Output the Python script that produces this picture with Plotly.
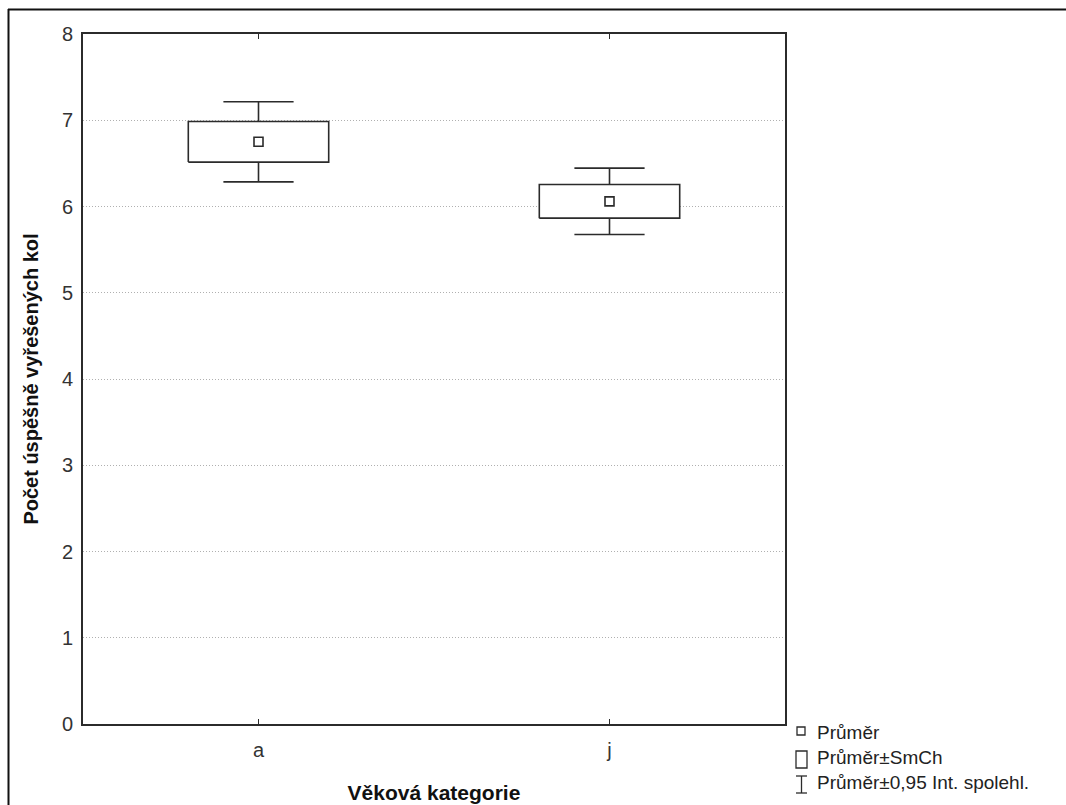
import plotly.graph_objects as go

categories = ["a", "j"]
means = [6.75, 6.06]
se = [0.235, 0.195]
ci95 = [0.465, 0.385]
y_ticks = [0, 1, 2, 3, 4, 5, 6, 7, 8]

x_title = "Věková kategorie"
y_title = "Počet úspěšně vyřešených kol"
legend_labels = ["Průměr", "Průměr±SmCh", "Průměr±0,95 Int. spolehl."]

FONT = "Liberation Sans, Arial, sans-serif"
LC = "#2b2b2b"
BOX_HW = 0.2
CAP_HW = 0.1

# plot area in pixels (for legend placement)
W, H = 1066, 805
L, R, T, B = 83, 281, 34, 81
PW, PH = W - L - R, H - T - B

def px2x(px):
    return (px - L) / PW

def px2y(py):
    return (H - B - py) / PH

fig = go.Figure()

# whiskers (0.95 CI)
wx, wy = [], []
for i, (m, s, c) in enumerate(zip(means, se, ci95)):
    wx += [i, i, None, i - CAP_HW, i + CAP_HW, None]
    wy += [m + s, m + c, None, m + c, m + c, None]
    wx += [i, i, None, i - CAP_HW, i + CAP_HW, None]
    wy += [m - s, m - c, None, m - c, m - c, None]
fig.add_trace(go.Scatter(x=wx, y=wy, mode="lines",
                         line=dict(color=LC, width=1.6),
                         hoverinfo="skip", showlegend=False))

# boxes (mean ± SE)
for i, (m, s) in enumerate(zip(means, se)):
    fig.add_trace(go.Scatter(
        x=[i - BOX_HW, i + BOX_HW, i + BOX_HW, i - BOX_HW, i - BOX_HW],
        y=[m - s, m - s, m + s, m + s, m - s],
        mode="lines", fill="toself", fillcolor="white",
        line=dict(color=LC, width=1.6),
        hoverinfo="skip", showlegend=False))

# means
fig.add_trace(go.Scatter(x=list(range(len(categories))), y=means, mode="markers",
                         marker=dict(symbol="square-open", size=9,
                                     color=LC, line=dict(width=1.6, color=LC)),
                         showlegend=False))

shapes = []
# outer frame (top and left)
shapes.append(dict(type="line", xref="paper", yref="paper",
                   x0=px2x(8), x1=px2x(1070), y0=px2y(9.5), y1=px2y(9.5),
                   line=dict(color="#111", width=2)))
shapes.append(dict(type="line", xref="paper", yref="paper",
                   x0=px2x(8.5), x1=px2x(8.5), y0=px2y(9), y1=px2y(810),
                   line=dict(color="#111", width=2)))

# legend symbols
shapes.append(dict(type="rect", xref="paper", yref="paper",
                   x0=px2x(797), x1=px2x(805), y0=px2y(735), y1=px2y(727),
                   line=dict(color=LC, width=1.3)))
shapes.append(dict(type="rect", xref="paper", yref="paper",
                   x0=px2x(796), x1=px2x(807), y0=px2y(768), y1=px2y(751),
                   line=dict(color=LC, width=1.3)))
shapes.append(dict(type="line", xref="paper", yref="paper",
                   x0=px2x(801.5), x1=px2x(801.5), y0=px2y(776), y1=px2y(793),
                   line=dict(color=LC, width=1.3)))
shapes.append(dict(type="line", xref="paper", yref="paper",
                   x0=px2x(796), x1=px2x(807), y0=px2y(776), y1=px2y(776),
                   line=dict(color=LC, width=1.3)))
shapes.append(dict(type="line", xref="paper", yref="paper",
                   x0=px2x(796), x1=px2x(807), y0=px2y(793), y1=px2y(793),
                   line=dict(color=LC, width=1.3)))

annotations = []
for lbl, py in zip(legend_labels, [732, 757, 782]):
    annotations.append(dict(text=lbl, xref="paper", yref="paper",
                            x=px2x(815), y=px2y(py), xanchor="left", yanchor="middle",
                            showarrow=False,
                            font=dict(family=FONT, size=19, color="#222")))

fig.update_layout(
    width=W, height=H,
    margin=dict(l=L, r=R, t=T, b=B, autoexpand=False),
    paper_bgcolor="white", plot_bgcolor="white",
    font=dict(family=FONT, size=20, color="#333"),
    shapes=shapes, annotations=annotations,
    showlegend=False,
    xaxis=dict(range=[-0.5, len(categories) - 0.5],
               tickmode="array", tickvals=list(range(len(categories))),
               ticktext=categories, automargin=False,
               showgrid=False, zeroline=False,
               showline=True, linecolor=LC, linewidth=1.6, mirror="ticks",
               ticks="inside", ticklen=5, tickcolor=LC, tickwidth=1.2,
               ticklabelstandoff=7,
               title=dict(text="<b>" + x_title + "</b>", standoff=26,
                          font=dict(family=FONT, size=21, color="#111"))),
    yaxis=dict(range=[0, 8], tickmode="array", tickvals=y_ticks,
               automargin=False,
               showgrid=True, gridcolor="#b0b0b0", griddash="1px,2px", gridwidth=1,
               zeroline=False,
               showline=True, linecolor=LC, linewidth=1.6, mirror=True,
               ticks="", ticklabelstandoff=4,
               title=dict(text="<b>" + y_title + "</b>", standoff=18,
                          font=dict(family=FONT, size=20, color="#111"))),
)

fig.write_html("out.html", config={"displayModeBar": False},
               post_script="document.body.style.margin='0';document.body.style.overflow='hidden';")
